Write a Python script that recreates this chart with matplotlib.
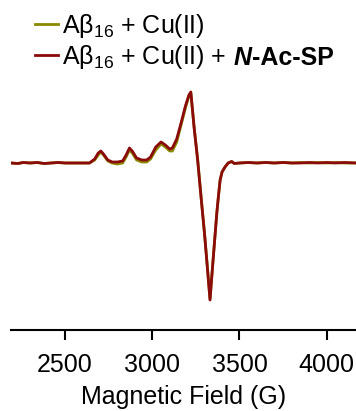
import matplotlib
matplotlib.use("Agg")
import matplotlib.pyplot as plt

# ============================================================
# ========================= DATA =============================
# ============================================================

# magnetic field (G) and EPR signal (arb. units, baseline = 0)
field = [2190, 2230, 2260, 2300, 2340, 2380, 2420, 2460, 2500, 2560,
         2600, 2640, 2670, 2690, 2705, 2720, 2745, 2770, 2800, 2830,
         2850, 2869, 2885, 2910, 2940, 2968, 2990, 3020, 3050, 3075,
         3100, 3115, 3140, 3165, 3190, 3210, 3221, 3240, 3260, 3280,
         3300, 3315, 3331, 3345, 3360, 3370, 3380, 3389, 3400, 3417,
         3435, 3455, 3470, 3500, 3550, 3600, 3650, 3700, 3750, 3800,
         3850, 3900, 3950, 4000, 4050, 4100, 4172]

signal_cu = [0, -0.5, 0.5, 0, 0.5, -0.5, 0, 0.5, 0, 0,
             0, 0, 3, 8, 11, 8, 2, 0, -1, 0,
             6, 13, 10, 3, 1, 1, 4, 13, 19, 16,
             12, 12, 21, 38, 55, 67, 70, 36, 4, -34,
             -71, -102, -136, -105, -72, -50, -32, -17, -9, -4,
             0, 1.5, -0.5, 0, 0.5, 0, 0.5, 0, 0.5, 0,
             0.5, 0, 0.5, 0, 0.5, 0, 0]

signal_sp = [0, -0.5, 0.5, 0, 0.5, -0.5, 0, 0.5, 0, 0,
             0, 0, 4, 10, 12, 9, 3, 1, 1, 2,
             8, 15, 12, 5, 3, 3, 6, 16, 21, 18,
             14, 15, 24, 40, 57, 68, 71, 35, 3, -35,
             -72, -103, -137, -105, -72, -50, -32, -17, -9, -4,
             0, 1.5, -0.5, 0, 0.5, 0, 0.5, 0, 0.5, 0,
             0, 0.5, 0, 0.5, 0, 0.5, 0]

labels = [r"A$\beta_{16}$ + Cu(II)", r"A$\beta_{16}$ + Cu(II) +"]
bold_part = ["N", "-Ac-SP"]
colors = ["#8a8a00", "#8b0a0a"]
xticks = [2500, 3000, 3500, 4000]

# ============================================================
# ========================= PLOT =============================
# ============================================================

plt.rcParams["font.family"] = ["Liberation Sans", "DejaVu Sans"]
plt.rcParams["mathtext.fontset"] = "custom"
plt.rcParams["mathtext.rm"] = "Liberation Sans"
plt.rcParams["mathtext.default"] = "regular"

fig = plt.figure(figsize=(3.56, 4.11), dpi=100)
ax = fig.add_axes([11 / 356, 81 / 411, 345 / 356, 330 / 411])

ax.plot(field, signal_cu, color=colors[0], lw=2, label=labels[0])
ax.plot(field, signal_sp, color=colors[1], lw=2, label=labels[1])

ax.set_xlim(2190, 4168)
ax.set_ylim(-167, 163)
ax.set_xticks(xticks)
ax.set_yticks([])
for side in ["left", "right", "top"]:
    ax.spines[side].set_visible(False)
ax.spines["bottom"].set_linewidth(1.5)
ax.tick_params(axis="x", direction="out", length=7.5, width=1.5,
               labelsize=18, pad=9)
ax.set_xlabel("Magnetic Field (G)", fontsize=18, labelpad=6)
ax.patch.set_alpha(0)

leg = ax.legend(loc="upper left", bbox_to_anchor=(35 / 356, 1 - 12 / 411),
                bbox_transform=fig.transFigure, frameon=False, fontsize=18,
                handlelength=0.9, handletextpad=0.2, labelspacing=0.12,
                borderpad=0, borderaxespad=0)
for h in leg.legend_handles:
    h.set_linewidth(2)

# bold "N-Ac-SP" appended after second legend label
fig.canvas.draw()
renderer = fig.canvas.get_renderer()
bb = leg.get_texts()[1].get_window_extent(renderer)
x0 = bb.x1 + 7
y0 = bb.y0 + 6
t1 = fig.text(x0, y0, bold_part[0], fontsize=18, fontweight="bold",
              fontstyle="italic", transform=None, va="baseline")
fig.canvas.draw()
bb1 = t1.get_window_extent(renderer)
fig.text(bb1.x1, y0, bold_part[1], fontsize=18, fontweight="bold",
         transform=None, va="baseline")

fig.savefig("out.png", dpi=100)
